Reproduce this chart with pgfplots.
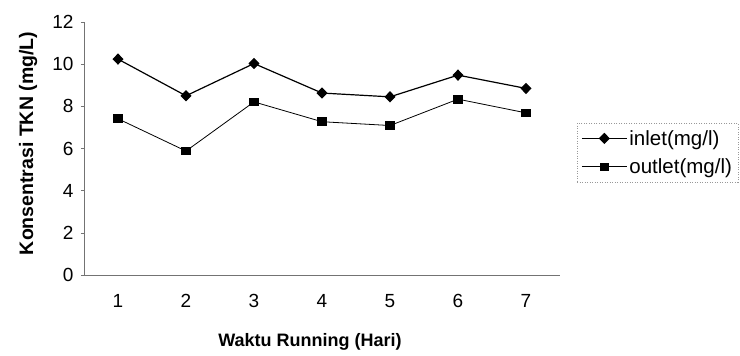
\documentclass[border=0pt]{standalone}
\usepackage{pgfplots}
\pgfplotsset{compat=1.18}
\usepackage{fontspec}
\setmainfont{Liberation Sans}
\begin{document}
\begin{tikzpicture}[x=1pt,y=1pt]
\useasboundingbox (0,0) rectangle (740,356);
\begin{axis}[
  at={(84pt,81pt)}, anchor=south west,
  scale only axis, width=476pt, height=253pt,
  xmin=0.5, xmax=7.5, ymin=0, ymax=12,
  xtick={1,...,7}, ytick={0,2,...,12},
  axis lines*=left,
  axis line style={black!55, line width=0.6pt},
  x tick style={draw=none},
  y tick style={black!55, line width=0.6pt},
  tick align=outside, major tick length=3pt,
  /pgf/number format/assume math mode=true,
  tick label style={font=\fontsize{19}{21}\selectfont},
  xticklabel style={yshift=-13pt},
  yticklabel style={xshift=-4pt},
  xlabel={\bfseries Waktu Running (Hari)},
  ylabel={\bfseries Konsentrasi TKN (mg/L)},
  label style={font=\fontsize{18}{20}\selectfont},
  xlabel style={at={(axis description cs:0.4748,-0.265)}, anchor=center},
  ylabel style={at={(axis description cs:-0.1176,0.52)}, anchor=center, font=\fontsize{19.5}{22}\selectfont},
  legend style={at={(axis description cs:1.0357,0.6008)}, anchor=north west,
    draw=black!40, dash pattern=on 1pt off 1.5pt, line width=0.5pt,
    font=\fontsize{20.5}{23}\selectfont, inner xsep=4pt, inner ysep=5pt,
    row sep=8pt, nodes={solid}},
  legend cell align=left,
  legend image code/.code={\draw[#1,solid,mark repeat=2,mark phase=2] plot coordinates {(0pt,0pt) (22.5pt,0pt) (45pt,0pt)};},
]
\addplot[black, line width=1.2pt, mark=diamond*, mark size=4.8pt, mark options={xscale=1.3,solid}]
  coordinates {(1,10.24) (2,8.5) (3,10.03) (4,8.63) (5,8.45) (6,9.48) (7,8.85)};
\addlegendentry{inlet(mg/l)}
\addplot[black, line width=0.8pt, mark=square*, mark size=4.3pt, mark options={yscale=0.9,solid}]
  coordinates {(1,7.41) (2,5.88) (3,8.21) (4,7.27) (5,7.09) (6,8.34) (7,7.69)};
\addlegendentry{outlet(mg/l)}
\end{axis}
\end{tikzpicture}
\end{document}
